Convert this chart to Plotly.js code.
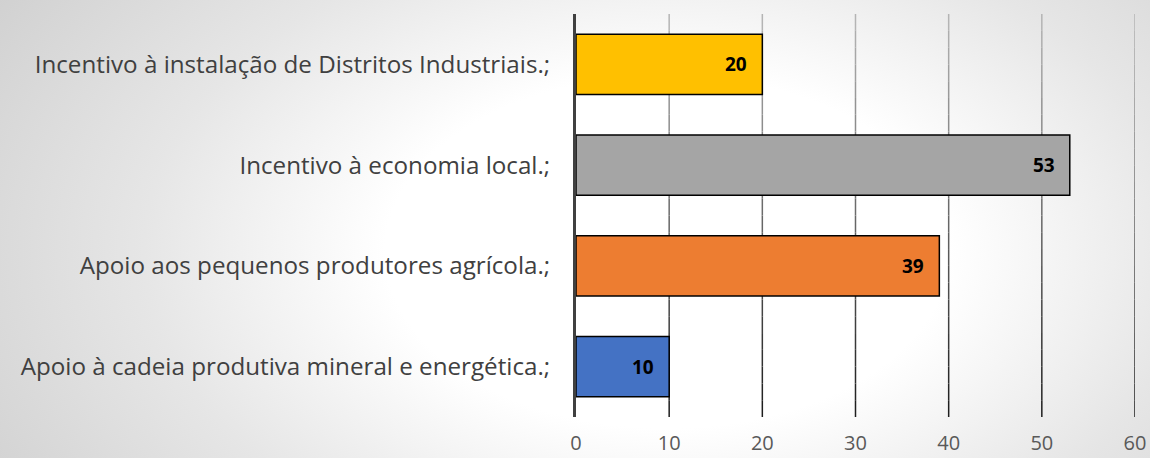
<!DOCTYPE html>
<html>
<head>
<meta charset="utf-8">
<script src="https://cdn.plot.ly/plotly-3.0.1.min.js"></script>
<style>
  html, body { margin: 0; padding: 0; }
  body {
    width: 1150px; height: 458px; overflow: hidden;
    background: radial-gradient(ellipse 70% 110% at 58% 55%, #ffffff 0%, #ffffff 35%, #e6e6e6 65%, #cfcfcf 100%);
  }
  #chart { width: 1150px; height: 458px; }
</style>
</head>
<body>
<div id="chart"></div>
<script>
// Data (bottom to top, as drawn by the category axis)
var categories = [
  'Apoio à cadeia produtiva mineral e energética.;',
  'Apoio aos pequenos produtores agrícola.;',
  'Incentivo à economia local.;',
  'Incentivo à instalação de Distritos Industriais.;'
];
var values = [10, 39, 53, 20];
var barColors = ['#4472C4', '#ED7D31', '#A5A5A5', '#FFC000'];
var tickValues = [0, 10, 20, 30, 40, 50, 60];

var FONT = 'Open Sans, Noto Sans, sans-serif';

var trace = {
  type: 'bar',
  orientation: 'h',
  y: categories,
  x: values,
  width: 0.6,
  marker: { color: barColors, line: { color: '#000000', width: 1.5 } },
  hoverinfo: 'skip'
};

var annotations = values.map(function (v, i) {
  return {
    x: v, y: categories[i], xref: 'x', yref: 'y',
    text: '<b>' + v + '</b>', showarrow: false,
    xanchor: 'right', yanchor: 'middle', xshift: -13,
    font: { family: FONT, size: 19, color: '#000000' }
  };
});

// gridlines fading from light grey (top) to near black (bottom)
var shapes = [];
var nSeg = 24;
function lerp(a, b, t) { return Math.round(a + (b - a) * t); }
tickValues.slice(1).forEach(function (t) {
  for (var s = 0; s < nSeg; s++) {
    var f = s / (nSeg - 1);
    var c = lerp(180, 30, f);
    shapes.push({
      type: 'line', layer: 'below', xref: 'x', yref: 'paper',
      x0: t, x1: t, y0: 1 - s / nSeg, y1: 1 - (s + 1) / nSeg,
      line: { color: 'rgb(' + c + ',' + c + ',' + c + ')', width: 1.5 }
    });
  }
});

var layout = {
  width: 1150, height: 458,
  margin: { l: 576, r: 15, t: 14, b: 41, pad: 0 },
  paper_bgcolor: 'rgba(0,0,0,0)',
  plot_bgcolor: 'rgba(0,0,0,0)',
  showlegend: false,
  bargap: 0.4,
  xaxis: {
    range: [0, 60],
    tickvals: tickValues,
    ticktext: tickValues.map(String),
    showgrid: false,
    zeroline: false,
    showline: false,
    ticks: '',
    ticklabelstandoff: 12,
    tickfont: { family: FONT, size: 20, color: '#595959' },
    fixedrange: true
  },
  yaxis: {
    type: 'category',
    categoryorder: 'array',
    categoryarray: categories,
    range: [-0.5, 3.5],
    showgrid: false,
    zeroline: false,
    showline: true,
    linecolor: '#404040',
    linewidth: 3,
    ticks: '',
    ticklabelstandoff: 18,
    tickfont: { family: FONT, size: 24.2, color: '#404040' },
    fixedrange: true
  },
  annotations: annotations,
  shapes: shapes
};

Plotly.newPlot('chart', [trace], layout, { displayModeBar: false, staticPlot: true });
</script>
</body>
</html>
